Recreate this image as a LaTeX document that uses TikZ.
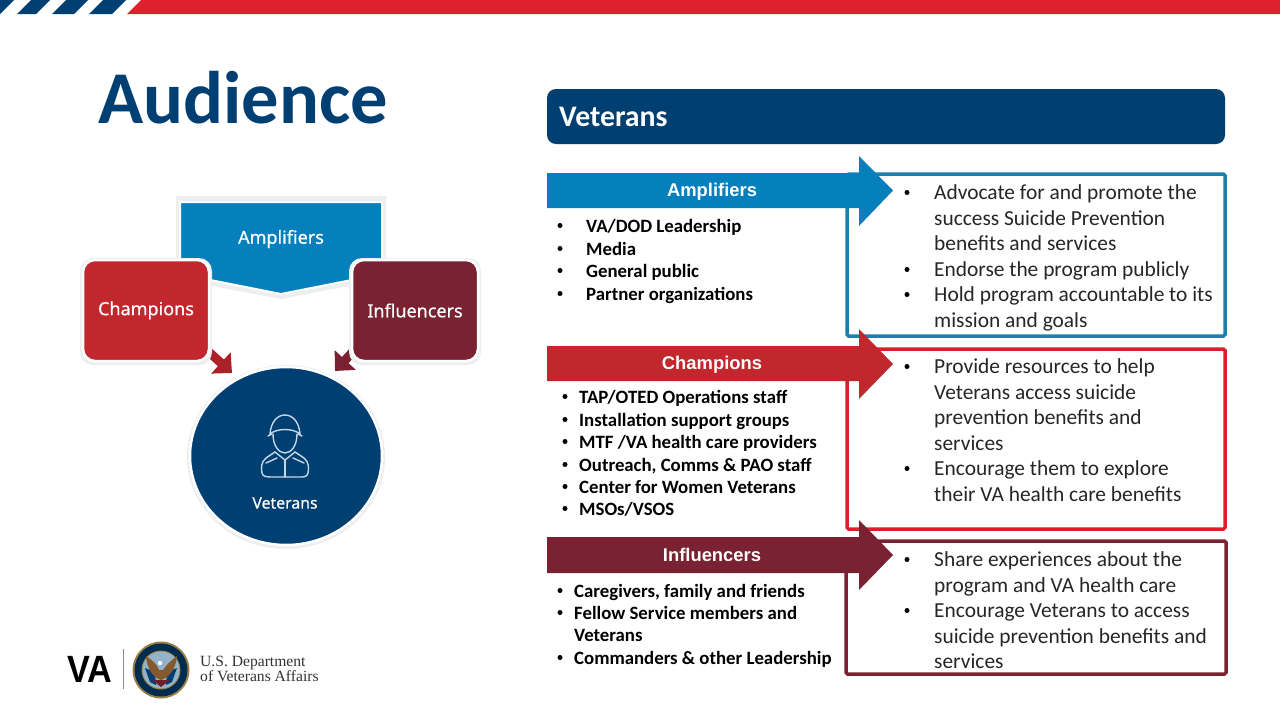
\documentclass[tikz,border=0pt]{standalone}
\usepackage{fontspec}
\setmainfont{Carlito}
\newfontfamily\arialf{Liberation Sans}
\newfontfamily\vaf[FakeStretch=0.9]{Liberation Sans}
\newfontfamily\serf{Liberation Serif}
\newfontfamily\notof[FakeBold=0.6]{Noto Sans}
\usetikzlibrary{arrows.meta}
\definecolor{navy}{HTML}{003F72}
\definecolor{vablue}{HTML}{0680BC}
\definecolor{vablueline}{HTML}{1C80AE}
\definecolor{varedbar}{HTML}{E0202C}
\definecolor{vared}{HTML}{C1272D}
\definecolor{varedline}{HTML}{D8202A}
\definecolor{maroon}{HTML}{7A2232}
\definecolor{iconblue}{HTML}{C5D8E8}
\definecolor{softgrey}{HTML}{ECEEF0}
\definecolor{sealgold}{HTML}{9A7F45}
\tikzset{
  titletext/.style={anchor=base west,inner sep=0,text=navy,font=\fontsize{74.5}{74.5}\selectfont\bfseries},
  bartext/.style={inner sep=0,text=white,font=\arialf\fontsize{18.4}{18.4}\selectfont\bfseries},
  picttext/.style={inner sep=0,text=white,font=\notof\fontsize{18}{18}\selectfont},
  whotext/.style={anchor=base west,inner sep=0,text=black,font=\fontsize{18.8}{18.8}\selectfont\bfseries},
  dotext/.style={anchor=base west,inner sep=0,text=black!85,font=\fontsize{21.4}{21.4}\selectfont},
  dotmark/.style={circle,fill=black,inner sep=0,minimum size=5},
  pictbox/.style={rounded corners=12,draw=white,line width=2.5},
  outbox/.style={line width=3.5,rounded corners=1.5},
  smallarrow/.style={line width=9,-{Triangle[length=15,width=28]}},
  iconline/.style={draw=iconblue,line width=1.4,line join=round,line cap=round}
}
% name, bullet x, text x, y, style, text
\newcommand{\itemline}[6]{%
  \node[dotmark] (#1b) at (#2,#4-6.5) {};
  \node[#5] (#1) at (#3,#4) {#6};}
\newcommand{\plainline}[5]{\node[#4] (#1) at (#2,#3) {#5};}
\begin{document}
\begin{tikzpicture}[x=1pt,y=-1pt]
\useasboundingbox (0,0) rectangle (1280,720);
\fill[white] (0,0) rectangle (1280,720);
% top bar
\fill[navy] (0,14) -- (14,0) -- (0,0) -- cycle;
\fill[navy] (17,14) -- (31,0) -- (50,0) -- (36,14) -- cycle;
\fill[navy] (52,14) -- (66,0) -- (88,0) -- (74,14) -- cycle;
\fill[navy] (89,14) -- (103,0) -- (126,0) -- (112,14) -- cycle;
\fill[varedbar] (127,14) -- (141,0) -- (1280,0) -- (1280,14) -- cycle;
% title
\node[titletext] (title) at (98,123.5) {Audience};
% left picture
\fill[softgrey] (176,196) -- (386,196) -- (386,279) -- (281,299) -- (176,279) -- cycle;
\filldraw[fill=vablue,draw=white,line width=2] (180,202) -- (382,202) -- (382,274) -- (281,294) -- (180,274) -- cycle;
\node[picttext] (pampl) at (281,239) {Amplifiers};
\coordinate (ctail) at (198,342);
\coordinate (ctip) at (232,373);
\coordinate (itail) at (362,342);
\coordinate (itip) at (335,371);
\draw[smallarrow,vared!88!black] (ctail) -- (ctip);
\draw[smallarrow,maroon] (itail) -- (itip);
\fill[softgrey,rounded corners=13] (80,258) rectangle (212,365);
\fill[softgrey,rounded corners=13] (349,258) rectangle (481,365);
\node[pictbox,picttext,fill=vared,minimum width=126,minimum height=101] (pchamp) at (146,310.5) {Champions};
\node[pictbox,picttext,fill=maroon,minimum width=126,minimum height=101] (pinfl) at (415,310.5) {Influencers};
\fill[softgrey] (286,457) ellipse [x radius=99,y radius=92];
\filldraw[fill=navy,draw=white,line width=2.5] (286,456) ellipse [x radius=96,y radius=89];
\coordinate (pvet) at (286,456);
% soldier icon
\draw[iconline] (270,434) .. controls (271,421) and (278,415) .. (285,415) .. controls (292,415) and (299,421) .. (300,434);
\draw[iconline] (270,434) .. controls (277,428) and (293,428) .. (300,434);
\draw[iconline] (268,436) -- (272,434) (302,436) -- (298,434);
\draw[iconline] (273,434) .. controls (273,446) and (279,453) .. (285,453) .. controls (291,453) and (297,446) .. (297,434);
\draw[iconline] (275,452) -- (285,460) -- (295,452);
\draw[iconline] (275,452) -- (266,458) .. controls (261,462) and (261,468) .. (262,473) .. controls (263,477) and (267,477) .. (270,477) -- (300,477) .. controls (304,477) and (307,477) .. (308,473) .. controls (309,468) and (309,462) .. (304,458) -- (295,452);
\draw[iconline] (285,460) -- (285,477);
\draw[iconline] (266,463) -- (277,458) (304,463) -- (293,458);
\node[picttext,font=\notof\fontsize{15.8}{15.8}\selectfont] (pvettext) at (285,503) {Veterans};
% banner
\fill[navy,rounded corners=9] (547,89) rectangle (1225,144);
\node[anchor=base west,inner sep=0,text=white,font=\fontsize{29.8}{29.8}\selectfont\bfseries] (banner) at (559,126) {Veterans};
% output boxes
\draw[outbox,vablueline] (847,174) rectangle (1225,336);
\draw[outbox,varedline] (847,349) rectangle (1225,529);
\draw[outbox,maroon] (846,541) rectangle (1226,674);
% big arrows
\fill[vablue] (547,173) -- (859,173) -- (859,156) -- (893,190.5) -- (859,226) -- (859,208) -- (547,208) -- cycle;
\node[bartext] (ampl) at (712,192) {Amplifiers};
\fill[vared] (547,346) -- (859,346) -- (859,329) -- (893,364) -- (859,399) -- (859,381) -- (547,381) -- cycle;
\node[bartext] (champ) at (712,365) {Champions};
\fill[maroon] (547,537) -- (859,537) -- (859,520) -- (893,555) -- (859,590) -- (859,573) -- (547,573) -- cycle;
\node[bartext] (infl) at (712,555) {Influencers};
% who lists
\itemline{wa1}{560}{586}{232}{whotext}{VA/DOD Leadership}
\itemline{wa2}{560}{586}{255}{whotext}{Media}
\itemline{wa3}{560}{586}{277}{whotext}{General public}
\itemline{wa4}{560}{586}{300}{whotext}{Partner organizations}
\itemline{wc1}{565}{579}{403}{whotext}{TAP/OTED Operations staff}
\itemline{wc2}{565}{579}{426}{whotext}{Installation support groups}
\itemline{wc3}{565}{579}{448}{whotext}{MTF /VA health care providers}
\itemline{wc4}{565}{579}{471}{whotext}{Outreach, Comms \& PAO staff}
\itemline{wc5}{565}{579}{493}{whotext}{Center for Women Veterans}
\itemline{wc6}{565}{579}{515}{whotext}{MSOs/VSOS}
\itemline{wi1}{560}{574}{597}{whotext}{Caregivers, family and friends}
\itemline{wi2}{560}{574}{619}{whotext}{Fellow Service members and}
\plainline{wi2b2}{574}{641}{whotext}{Veterans}
\itemline{wi3}{560}{574}{664}{whotext}{Commanders \& other Leadership}
% do lists
\itemline{da1}{907}{934}{199}{dotext}{Advocate for and promote the}
\plainline{da1l2}{934}{225}{dotext}{success Suicide Prevention}
\plainline{da1l3}{934}{250}{dotext}{benefits and services}
\itemline{da2}{907}{934}{276}{dotext}{Endorse the program publicly}
\itemline{da3}{907}{934}{301}{dotext}{Hold program accountable to its}
\plainline{da3l2}{934}{327}{dotext}{mission and goals}
\itemline{dc1}{907}{934}{373}{dotext}{Provide resources to help}
\plainline{dc1l2}{934}{399}{dotext}{Veterans access suicide}
\plainline{dc1l3}{934}{424}{dotext}{prevention benefits and}
\plainline{dc1l4}{934}{450}{dotext}{services}
\itemline{dc2}{907}{934}{475}{dotext}{Encourage them to explore}
\plainline{dc2l2}{934}{501}{dotext}{their VA health care benefits}
\itemline{di1}{907}{934}{566}{dotext}{Share experiences about the}
\plainline{di1l2}{934}{592}{dotext}{program and VA health care}
\itemline{di2}{907}{934}{617}{dotext}{Encourage Veterans to access}
\plainline{di2l2}{934}{643}{dotext}{suicide prevention benefits and}
\plainline{di2l3}{934}{668}{dotext}{services}
% logo
\node[anchor=base west,inner sep=0,text=black,font=\vaf\fontsize{38}{38}\selectfont\bfseries] (vamark) at (67.5,682) {VA};
\draw[black!45,line width=0.8] (123,649) -- (123,689);
\fill[sealgold] (161,670) circle (28.5);
\fill[navy!70!black] (161,670) circle (26.5);
\fill[sealgold] (161,670) circle (19.5);
\fill[iconblue!75!navy] (161,670) circle (18.5);
\fill[navy] (145,668) -- (155,672) -- (156,685) -- (150,682) -- cycle;
\fill[navy] (177,668) -- (167,672) -- (166,685) -- (172,682) -- cycle;
\fill[maroon!90!black] (152,680) -- (170,680) -- (161,687) -- cycle;
\fill[brown!70!black] (146,656) .. controls (152,660) and (157,664) .. (159,670) -- (163,670) .. controls (167,664) and (172,660) .. (177,656) .. controls (176,668) and (170,677) .. (161,680) .. controls (152,677) and (147,668) .. (146,656) -- cycle;
\fill[white] (160,663) circle (2.2);
\node[anchor=base west,inner sep=0,text=black!80,font=\serf\fontsize{15.6}{15.6}\selectfont] (dept1) at (200,666) {U.S. Department};
\node[anchor=base west,inner sep=0,text=black!80,font=\serf\fontsize{15.6}{15.6}\selectfont] (dept2) at (200,681) {of Veterans Affairs};
\end{tikzpicture}
\end{document}
